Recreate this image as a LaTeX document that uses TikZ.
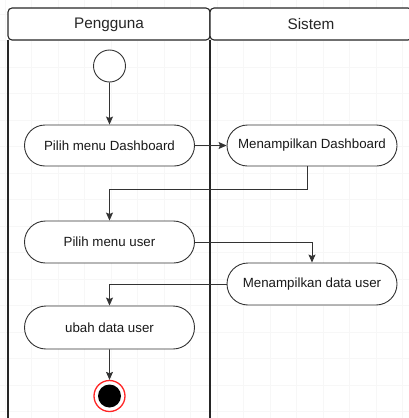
\documentclass[tikz,border=0pt]{standalone}
\usepackage{fontspec}
\setmainfont{Liberation Sans}
\usetikzlibrary{arrows.meta,shapes.misc}
\definecolor{ink}{HTML}{333333}
\tikzset{
  lane/.style={draw=black!85, line width=1.1pt},
  act/.style={draw=ink, line width=0.9pt, fill=white, rounded rectangle,
    minimum width=170pt, minimum height=41pt, inner sep=0pt,
    font=\fontsize{13.3}{15}\selectfont, text=black!90},
  flow/.style={draw=ink, line width=0.9pt,
    -{Stealth[length=8pt,width=7pt,inset=1.5pt]}},
  initst/.style={circle, draw=ink, line width=0.9pt, fill=white,
    minimum size=32pt, inner sep=0pt},
  finalst/.style={circle, draw=red!85, line width=1.3pt, fill=white,
    minimum size=31pt, inner sep=0pt,
    path picture={\fill[black] (path picture bounding box.center) circle (11.5pt);}},
  lanetitle/.style={font=\fontsize{15.3}{17}\selectfont, text=black!85}
}
\begin{document}
\begin{tikzpicture}[x=1pt, y=-1pt]
  \useasboundingbox (0,0) rectangle (409,418);
  \clip (0,0) rectangle (409,418);
  % faint background grid
  \draw[black!3, line width=0.4pt, step=26.5pt, shift={(5,14)}] (-10,-20) grid (420,430);

  % swimlanes
  \draw[lane] (8,40) -- (8,440);
  \draw[lane] (210,40) -- (210,440);
  \draw[lane] (412,40) -- (412,440);
  \draw[lane, fill=white, rounded corners=4pt] (8,8) rectangle (210,40);
  \draw[lane, fill=white, rounded corners=4pt] (210,8) rectangle (412,40);
  \node[lanetitle] (t1) at (109,24.5) {Pengguna};
  \node[lanetitle] (t2) at (311,24.5) {Sistem};

  % activity nodes
  \node[initst] (start) at (109.5,66) {};
  \node[act] (n1) at (109.5,145.5) {Pilih menu Dashboard};
  \node[act] (n2) at (312,145.5) {Menampilkan Dashboard};
  \node[act, minimum height=42pt] (n3) at (109.5,242) {Pilih menu user};
  \node[act, minimum height=42pt] (n4) at (312,284) {Menampilkan data user};
  \node[act, minimum height=43pt] (n5) at (109.5,327.5) {ubah data user};
  \node[finalst] (end) at (109.5,396) {};

  % bend points
  \coordinate (b1) at (109.5,189);
  \coordinate (d2) at (307,166);

  % control flow
  \draw[flow] (start) -- (n1);
  \draw[flow] (n1) -- (n2);
  \draw[flow] (d2) |- (b1) -- (n3);
  \draw[flow] (n3.east) -| (n4.north);
  \draw[flow] (n4.west) -| (n5.north);
  \draw[flow] (n5) -- (end);
\end{tikzpicture}
\end{document}
